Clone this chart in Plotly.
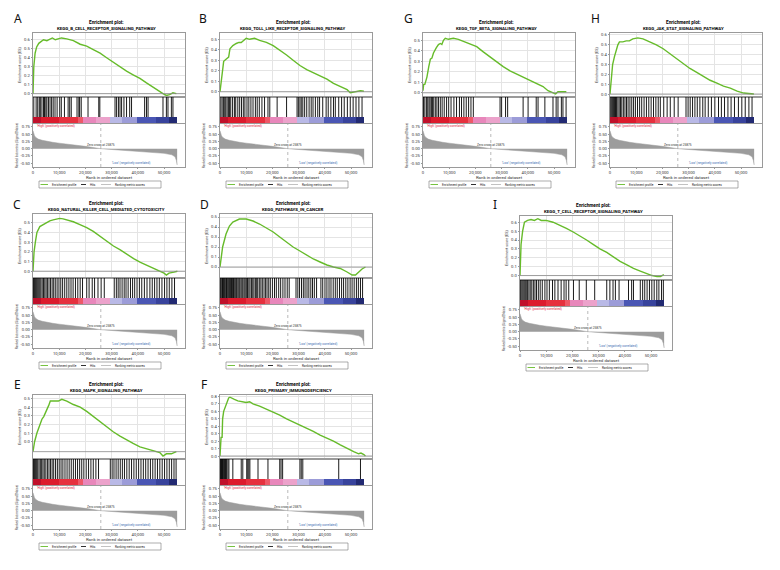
import plotly.graph_objects as go

# the page body keeps its default 8px margin, so the figure is sized to fit inside it
OFF = 8
W, H = 780 - 2 * OFF, 570 - 2 * OFF
FONT = "Roboto, Liberation Sans, sans-serif"
GREEN = "#66bb2a"

# ranked list metric (same ordered dataset in every panel)
metric_rank = [0, 200, 600, 1200, 2000, 3500, 5000, 7500, 10000, 15000, 20000, 25875,
               30000, 35000, 40000, 45000, 50000, 53000, 54200, 54700, 55000]
metric_value = [0.62, 0.52, 0.44, 0.38, 0.33, 0.29, 0.26, 0.22, 0.19, 0.14, 0.08, 0.0,
                -0.03, -0.06, -0.09, -0.12, -0.16, -0.21, -0.28, -0.40, -0.56]
zero_cross = 25875

# red -> pink -> lavender -> blue strip under the hits
strip_edges = [0, 3000, 10000, 17000, 19000, 24000, 29500, 34000, 39500, 47000, 52000, 55000]
strip_colors = ["#c0102a", "#dc1a2c", "#e6303e", "#ee5868", "#e887bb", "#eca2cb",
                "#b9b9e6", "#9c9cd8", "#4a56b4", "#38439c", "#222a72"]

# running enrichment scores and hit positions per gene set
A_rank = [0, 300, 800, 1400, 2200, 2900, 4000, 5300, 6600, 7400, 8500, 9700, 10900, 12900, 15400,
          18000, 20500, 23000, 25600, 28100, 30600, 33200, 35700, 38200, 40800, 43300, 45800,
          47700, 49600, 50900, 52100, 53400, 54700]
A_es = [0.0, 0.3, 0.45, 0.52, 0.56, 0.58, 0.60, 0.59, 0.61, 0.62, 0.60, 0.61, 0.62, 0.61, 0.59,
        0.55, 0.53, 0.49, 0.45, 0.40, 0.35, 0.30, 0.25, 0.21, 0.17, 0.12, 0.07, 0.03, 0.0, -0.02,
        -0.01, 0.01, 0.0]
A_hits = [300, 1200, 1800, 2400, 2800, 3400, 4000, 4400, 4900, 5300, 5900, 6500, 7100, 7700, 8400,
          9200, 10200, 10800, 12000, 13400, 14000, 14600, 16800, 17500, 17800, 18400, 21000, 25100,
          25500, 31300, 31900, 32600, 33200, 33800, 34700, 35700, 36900, 37600, 42600, 43300, 43900,
          49600, 50900, 51500, 52800, 53400]

B_rank = [0, 400, 1000, 1400, 2300, 3300, 3800, 4900, 6200, 7200, 8100, 9000, 10000, 11300, 13200,
          15100, 17700, 20300, 22800, 25400, 27900, 30500, 33100, 35600, 38200, 40800, 43300, 45900,
          48500, 49700, 51000, 52300, 53600, 54900]
B_es = [0.0, 0.1, 0.2, 0.29, 0.31, 0.33, 0.41, 0.44, 0.46, 0.47, 0.47, 0.49, 0.51, 0.50, 0.51,
        0.49, 0.47, 0.44, 0.40, 0.35, 0.30, 0.25, 0.21, 0.18, 0.15, 0.12, 0.08, 0.05, 0.02, -0.01,
        -0.005, 0.0, 0.01, 0.005]
B_hits = [300, 800, 1300, 1800, 2200, 2700, 3200, 3600, 4100, 4800, 5500, 6000, 6800, 7500, 8200,
          8900, 9500, 10300, 11000, 11800, 12600, 13500, 14200, 15000, 16000, 17000, 18300, 19000,
          21800, 25400, 29400, 29900, 30500, 31000, 31600, 32300, 33100, 34000, 34800, 35500, 36400,
          37300, 38000, 39200, 40500, 41300, 42300, 43300, 44000, 45300, 46400, 47400, 48600, 49700,
          50800, 51900, 53000, 54200]

C_rank = [0, 400, 900, 1500, 2600, 3800, 5100, 6400, 7700, 9000, 10200, 11500, 12800, 15400, 17900,
          20500, 23000, 25600, 28200, 30700, 33300, 35900, 38400, 41000, 43500, 46100, 48000, 50000,
          50900, 51900, 53800, 55100]
C_es = [0.0, 0.2, 0.3, 0.4, 0.46, 0.48, 0.50, 0.52, 0.53, 0.54, 0.545, 0.54, 0.53, 0.51, 0.48,
        0.45, 0.41, 0.36, 0.31, 0.26, 0.22, 0.17, 0.13, 0.09, 0.06, 0.03, 0.01, -0.02, -0.04, -0.02,
        -0.01, 0.0]
C_hits = [200, 600, 1000, 1400, 1800, 2200, 2600, 3000, 3500, 4000, 4500, 5000, 5500, 6100, 6700,
          7300, 7900, 8500, 9200, 9900, 10600, 11300, 12100, 12900, 13700, 14500, 15300, 16200,
          17100, 18000, 18900, 20500, 21400, 22600, 23500, 24800, 26000, 27200, 31000, 31800, 32500,
          33200, 34000, 34800, 35500, 36300, 37200, 38000, 38800, 39700, 40600, 41500, 42500, 43500,
          44600, 45500, 46400, 47300, 48200, 49200, 50200, 51100, 52000, 53000, 54000]

D_rank = [0, 1000, 2300, 3600, 4900, 6200, 7400, 10000, 12600, 15100, 17700, 20300, 22800, 25400,
          27900, 30500, 33100, 35600, 38200, 40800, 43300, 45900, 48500, 50400, 51700, 52900, 54200,
          55500]
D_es = [0.0, 0.2, 0.33, 0.41, 0.45, 0.47, 0.48, 0.48, 0.46, 0.43, 0.39, 0.35, 0.30, 0.25, 0.20,
        0.16, 0.12, 0.08, 0.05, 0.02, 0.0, -0.015, -0.05, -0.08, -0.08, -0.05, -0.02, 0.0]
D_hits = [100, 350, 700, 950, 1300, 1600, 1850, 2200, 2500, 2750, 3100, 3400, 3700, 4050, 4400,
          4800, 5150, 5600, 6000, 6350, 6800, 7200, 7550, 8000, 8400, 8750, 9200, 9600, 10050,
          10500, 11000, 11450, 12000, 12500, 12950, 13500, 14000, 14400, 15000, 15600, 16150, 16800,
          17400, 17950, 18600, 19200, 20000, 20800, 21500, 22400, 23150, 24000, 24800, 25650, 26400,
          29000, 29700, 30350, 31100, 31800, 32450, 33200, 33900, 34650, 35300, 36000, 36850, 38500,
          39200, 40050, 40800, 41600, 42350, 43200, 44000, 44750, 45600, 46400, 47150, 48000, 48800,
          49650, 50400, 51200, 52050, 52800, 53600, 54400]

E_rank = [0, 600, 1500, 2200, 2800, 3400, 4100, 5100, 6000, 6600, 7800, 9700, 11000, 12900, 15400,
          18000, 20500, 23000, 25600, 28100, 30600, 33200, 35700, 38200, 40800, 43300, 45800, 48400,
          49600, 50900, 52800, 54700]
E_es = [-0.115, 0.0, 0.1, 0.17, 0.23, 0.26, 0.29, 0.35, 0.42, 0.47, 0.47, 0.47, 0.49, 0.47, 0.43,
        0.40, 0.35, 0.29, 0.23, 0.17, 0.115, 0.065, 0.02, -0.02, -0.06, -0.08, -0.10, -0.125,
        -0.165, -0.14, -0.14, -0.115]
E_hits = [200, 600, 1000, 1400, 1800, 2300, 2800, 3300, 3800, 4300, 4900, 5500, 6100, 6700, 7300,
          7900, 8600, 9300, 10000, 10700, 11400, 12200, 13000, 13800, 14600, 15400, 16200, 17000,
          17800, 18600, 19400, 20300, 21200, 22100, 23000, 24000, 25000, 29500, 30200, 30900, 31700,
          32500, 33300, 34100, 34900, 35800, 36700, 37600, 38500, 39400, 40300, 41200, 42100, 43000,
          43900, 44800, 45700, 46600, 47500, 48400, 49300, 50200, 51100, 52000, 52900, 53800, 54600]

F_rank = [0, 400, 800, 1000, 1400, 1900, 2300, 2900, 3300, 3800, 4600, 5500, 6800, 8700, 10000,
          11300, 12600, 15100, 17700, 20300, 22800, 25400, 27900, 30500, 33100, 35600, 38200, 40800,
          43300, 45900, 48500, 51000, 52900, 53800, 54900, 55500]
F_es = [0.0, 0.25, 0.25, 0.5, 0.6, 0.65, 0.68, 0.72, 0.78, 0.79, 0.78, 0.76, 0.74, 0.73, 0.72,
        0.73, 0.70, 0.67, 0.63, 0.59, 0.55, 0.50, 0.46, 0.42, 0.37, 0.33, 0.28, 0.24, 0.20, 0.15,
        0.10, 0.06, 0.03, 0.04, 0.02, 0.0]
F_hits = [100, 300, 500, 700, 900, 1100, 1400, 1700, 2100, 2500, 3000, 3400, 4900, 8100, 8700,
          10200, 10600, 11000, 11400, 14500, 18300, 22800, 23300, 23900, 30500, 31000, 31600, 45300,
          53600]

G_rank = [0, 250, 700, 1500, 2200, 2800, 3400, 4000, 5100, 5900, 6600, 7200, 7800, 8500, 9700,
          11600, 13500, 15400, 18000, 20500, 23000, 25600, 28100, 30600, 33200, 35700, 38200, 40800,
          43300, 45800, 47700, 49600, 50600, 51500, 53400, 54700]
G_es = [0.02, 0.08, 0.08, 0.15, 0.25, 0.32, 0.33, 0.38, 0.43, 0.46, 0.47, 0.46, 0.50, 0.52, 0.51,
        0.52, 0.51, 0.49, 0.47, 0.44, 0.39, 0.34, 0.29, 0.25, 0.21, 0.18, 0.15, 0.12, 0.09, 0.06,
        0.02, 0.0, -0.01, 0.01, 0.01, 0.01]
G_hits = [200, 700, 1300, 1800, 2300, 2700, 3200, 3600, 4100, 4700, 5300, 5900, 6600, 7300, 8100,
          9000, 9800, 10700, 11800, 12800, 13900, 14700, 15600, 16500, 17400, 18300, 19200, 29400,
          30000, 31500, 32300, 38200, 40100, 43200, 43900, 46500, 49600, 50800, 51500, 52800, 53400,
          54600]

H_rank = [0, 400, 1000, 1700, 2300, 3000, 3600, 4900, 6200, 7400, 8700, 10600, 12600, 15100, 17700,
          20300, 22800, 25400, 27900, 30500, 33100, 35600, 38200, 40800, 43300, 45900, 48500, 51000,
          53600, 54900]
H_es = [0.0, 0.15, 0.30, 0.38, 0.45, 0.50, 0.53, 0.53, 0.54, 0.54, 0.56, 0.57, 0.56, 0.53, 0.50,
        0.46, 0.41, 0.36, 0.31, 0.26, 0.22, 0.18, 0.14, 0.11, 0.08, 0.06, 0.03, 0.01, 0.005, 0.0]
H_hits = [100, 500, 900, 1300, 1700, 2100, 2500, 3000, 3500, 4000, 4500, 5100, 5700, 6300, 6900,
          7600, 8300, 9000, 9700, 10500, 11300, 12100, 13000, 13900, 14800, 15700, 16600, 17500,
          18400, 19200, 20500, 21800, 23000, 24500, 26000, 29000, 29800, 30600, 31500, 32400, 33300,
          34300, 35400, 36300, 37500, 38700, 40000, 41400, 42500, 43700, 45000, 46200, 47500, 49000,
          50300, 51600, 53000, 54200]

I_rank = [0, 400, 1000, 1700, 2900, 4200, 5500, 6800, 8100, 10000, 12600, 15100, 17700, 20300,
          22800, 25400, 27900, 30500, 33100, 35600, 38200, 40800, 43300, 45900, 48500, 50400, 52300,
          53600, 54900]
I_es = [0.0, 0.35, 0.5, 0.6, 0.62, 0.63, 0.62, 0.64, 0.62, 0.62, 0.60, 0.57, 0.53, 0.49, 0.45,
        0.40, 0.35, 0.30, 0.26, 0.21, 0.16, 0.12, 0.08, 0.05, 0.02, 0.0, -0.01, -0.01, 0.01]
I_hits = [100, 400, 800, 1200, 1600, 2000, 2400, 2900, 3400, 3900, 4500, 5100, 5700, 6300, 7000,
          7700, 8500, 9500, 10300, 11200, 12400, 13300, 14500, 15700, 16800, 17600, 18600, 20400,
          22600, 25300, 28500, 33100, 34300, 35500, 36400, 37800, 41400, 42600, 43300, 45900, 46800,
          47600, 48500, 49400, 50300, 51200, 52200, 53000, 54000, 54700]

panels = [
    dict(letter="A", name="KEGG_B_CELL_RECEPTOR_SIGNALING_PATHWAY", rank=A_rank, es=A_es, hits=A_hits,
         box=(33, 185, 33), lab=(18, 19), es_range=(-0.037, 0.675), es_top=0.6, base=0.0),
    dict(letter="B", name="KEGG_TOLL_LIKE_RECEPTOR_SIGNALING_PATHWAY", rank=B_rank, es=B_es, hits=B_hits,
         box=(220, 372, 33), lab=(203, 19), es_range=(-0.05, 0.56), es_top=0.5, base=0.0),
    dict(letter="G", name="KEGG_TGF_BETA_SIGNALING_PATHWAY", rank=G_rank, es=G_es, hits=G_hits,
         box=(423, 575, 33), lab=(408, 19), es_range=(-0.04, 0.57), es_top=0.5, base=0.0),
    dict(letter="H", name="KEGG_JAK_STAT_SIGNALING_PATHWAY", rank=H_rank, es=H_es, hits=H_hits,
         box=(610, 762, 33), lab=(595, 19), es_range=(-0.03, 0.62), es_top=0.6, base=0.0),
    dict(letter="C", name="KEGG_NATURAL_KILLER_CELL_MEDIATED_CYTOTOXICITY", rank=C_rank, es=C_es,
         hits=C_hits, box=(33, 185, 214), lab=(17, 205), es_range=(-0.07, 0.59), es_top=0.5, base=0.0),
    dict(letter="D", name="KEGG_PATHWAYS_IN_CANCER", rank=D_rank, es=D_es, hits=D_hits,
         box=(220, 372, 214), lab=(204, 205), es_range=(-0.11, 0.53), es_top=0.5, base=0.0),
    dict(letter="I", name="KEGG_T_CELL_RECEPTOR_SIGNALING_PATHWAY", rank=I_rank, es=I_es, hits=I_hits,
         box=(520, 672, 216), lab=(495, 205), es_range=(-0.05, 0.67), es_top=0.6, base=0.0),
    dict(letter="E", name="KEGG_MAPK_SIGNALING_PATHWAY", rank=E_rank, es=E_es, hits=E_hits,
         box=(33, 185, 395), lab=(17, 384), es_range=(-0.2, 0.54), es_top=0.5, base=-0.115),
    dict(letter="F", name="KEGG_PRIMARY_IMMUNODEFICIENCY", rank=F_rank, es=F_es, hits=F_hits,
         box=(220, 372, 395), lab=(204, 384), es_range=(-0.04, 0.82), es_top=0.8, base=0.0),
]

X_RANGE = [0, 58000]
LINE = "#9a9a9a"


# positions below are given in page pixels and mapped into the figure
def px(x):
    return (x - OFF) / W


def py(y):
    return 1 - (y - OFF) / H


def xdom(a, b):
    return [px(a), px(b)]


def ydom(top, bottom):
    return [py(bottom), py(top)]


def ids(n):
    return ("x" if n == 1 else f"x{n}"), ("y" if n == 1 else f"y{n}")


def note(x, y, text, size, color="#222", anchor="center", **kw):
    return dict(x=x, y=y, text=text, showarrow=False, xanchor=anchor, yanchor="middle",
                font=dict(size=size, color=color, **kw))


fig = go.Figure()
layout = {}
shapes = []
annotations = []
n_strip = len(strip_colors)
strip_scale = [[k / (n_strip - 1), c] for k, c in enumerate(strip_colors)]

for i, p in enumerate(panels):
    x0, x1, top = p["box"]
    n_es, n_hit, n_rank = 3 * i + 1, 3 * i + 2, 3 * i + 3
    xe, ye = ids(n_es)
    xh, yh = ids(n_hit)
    xr, yr = ids(n_rank)
    dom = xdom(x0, x1)
    common_x = dict(domain=dom, range=X_RANGE, showline=True, mirror=True, linecolor=LINE,
                    linewidth=0.6, zeroline=False)

    # enrichment score
    fig.add_trace(go.Scatter(x=p["rank"], y=p["es"], mode="lines", xaxis=xe, yaxis=ye,
                             line=dict(color=GREEN, width=1.4), hoverinfo="skip"))
    ticks = [round(0.1 * k, 1) for k in range(int(round(p["es_top"] * 10)) + 1)]
    layout["xaxis" if n_es == 1 else f"xaxis{n_es}"] = dict(
        common_x, anchor=ye, showticklabels=False, showgrid=True, gridcolor="#e4e4e4",
        gridwidth=0.5, dtick=10000, tick0=0)
    layout[f"yaxis{n_es}" if n_es > 1 else "yaxis"] = dict(
        domain=ydom(top, top + 64), anchor=xe, range=list(p["es_range"]), tickvals=ticks,
        ticktext=[f"{t:.1f}" for t in ticks], tickfont=dict(size=4.2, color="#333"),
        showline=True, mirror=True, linecolor=LINE, linewidth=0.6, showgrid=True,
        gridcolor="#e4e4e4", gridwidth=0.5, zeroline=False, ticks="outside", ticklen=1.5,
        tickcolor=LINE, title=dict(text="Enrichment score (ES)", font=dict(size=3.6, color="#333"),
                                   standoff=2))
    shapes.append(dict(type="line", xref=f"{xe} domain", yref=ye, x0=0, x1=1,
                       y0=p["base"], y1=p["base"], line=dict(color="#8a8a8a", width=0.8)))

    # hits + ranking colour strip
    hx, hy = [], []
    for h in p["hits"]:
        hx += [h, h, None]
        hy += [0, 1, None]
    fig.add_trace(go.Heatmap(x=strip_edges, y=[-0.3, 0], z=[list(range(n_strip))],
                             colorscale=strip_scale, zmin=0, zmax=n_strip - 1, showscale=False,
                             xaxis=xh, yaxis=yh, hoverinfo="skip"))
    fig.add_trace(go.Scatter(x=hx, y=hy, mode="lines", xaxis=xh, yaxis=yh,
                             line=dict(color="#000000", width=0.9), hoverinfo="skip"))
    layout[f"xaxis{n_hit}"] = dict(common_x, anchor=yh, showticklabels=False, showgrid=False,
                                   ticks="")
    layout[f"yaxis{n_hit}"] = dict(domain=ydom(top + 64, top + 90), anchor=xh, range=[-0.3, 1.0],
                                   showticklabels=False, showgrid=False, zeroline=False,
                                   showline=True, mirror=True, linecolor=LINE, linewidth=0.6)

    # ranked list metric
    fig.add_trace(go.Scatter(x=metric_rank, y=metric_value, mode="lines", fill="tozeroy",
                             fillcolor="#9c9c9c", line=dict(color="#9c9c9c", width=0.5),
                             xaxis=xr, yaxis=yr, hoverinfo="skip"))
    layout[f"xaxis{n_rank}"] = dict(
        common_x, anchor=yr, showgrid=False, dtick=10000, tick0=0, tickformat=",",
        tickfont=dict(size=4.2, color="#333"), ticks="outside", ticklen=1.5, tickcolor=LINE,
        title=dict(text="Rank in ordered dataset", font=dict(size=4.4, color="#333"), standoff=1))
    rticks = [-0.5, -0.25, 0.0, 0.25, 0.5, 0.75]
    layout[f"yaxis{n_rank}"] = dict(
        domain=ydom(top + 91, top + 134), anchor=xr, range=[-0.63, 0.85], tickvals=rticks,
        ticktext=[f"{t:.2f}" for t in rticks], tickfont=dict(size=4.2, color="#333"),
        showline=True, mirror=True, linecolor=LINE, linewidth=0.6, showgrid=False, zeroline=False,
        ticks="outside", ticklen=1.5, tickcolor=LINE,
        title=dict(text="Ranked list metric (Signal2Noise)", font=dict(size=3.1, color="#333"),
                   standoff=2))
    shapes.append(dict(type="line", xref=xr, yref=f"{yr} domain", x0=zero_cross, x1=zero_cross,
                       y0=0, y1=1, line=dict(color="#8a8a8a", width=0.6, dash="dot")))
    for a in [note(zero_cross, 0.14, f"Zero cross at {zero_cross}", 3.1, "#333"),
              note(800, 0.79, "'High' (positively correlated)", 3.1, "#e0203a", "left"),
              note(29400, -0.48, "'Low' (negatively correlated)", 3.1, "#3a6ab0", "left")]:
        annotations.append(dict(a, xref=xr, yref=yr))

    # titles and panel letter
    cx = (x0 + x1) / 2 - 3
    for a in [note(px(cx), py(top - 10.5), "Enrichment plot:", 4.7, "#000", weight="bold"),
              note(px(cx), py(top - 4.5), p["name"], 4.4, "#000", weight="bold"),
              note(px(p["lab"][0]), py(p["lab"][1]), p["letter"], 12, "#111", family="Noto Sans")]:
        annotations.append(dict(a, xref="paper", yref="paper"))

    # legend box
    L = x0 + 6
    ly0, ly1 = top + 148, top + 155
    lm = (ly0 + ly1) / 2
    shapes.append(dict(type="rect", xref="paper", yref="paper", x0=px(L), x1=px(L + 122),
                       y0=py(ly1), y1=py(ly0), line=dict(color="#777", width=0.6)))
    for a, b, col in [(L + 1.5, L + 9, GREEN), (L + 42, L + 47, "#1a1a1a"),
                      (L + 62, L + 72, "#bbbbbb")]:
        shapes.append(dict(type="line", xref="paper", yref="paper", x0=px(a), x1=px(b),
                           y0=py(lm), y1=py(lm), line=dict(color=col, width=0.9)))
    for tx, label in [(L + 11, "Enrichment profile"), (L + 49, "Hits"),
                      (L + 74, "Ranking metric scores")]:
        annotations.append(dict(note(px(tx), py(lm), label, 3.0, "#222", "left"),
                                xref="paper", yref="paper"))

fig.update_layout(
    width=W, height=H, margin=dict(l=0, r=0, t=0, b=0), showlegend=False,
    paper_bgcolor="white", plot_bgcolor="white", font=dict(family=FONT, color="#222"),
    shapes=shapes, annotations=annotations, **layout)

fig.write_html("out.html")
